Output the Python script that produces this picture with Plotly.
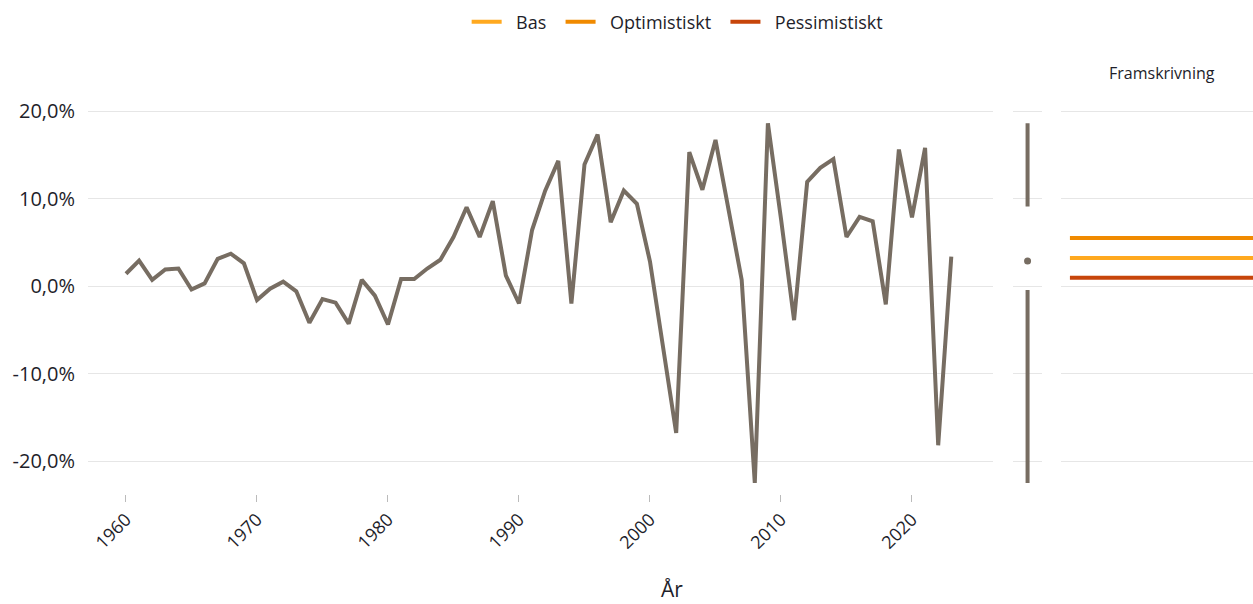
import numpy as np
import plotly.graph_objects as go

years = list(range(1960, 2024))
values = [1.4, 2.9, 0.7, 1.9, 2.0, -0.4, 0.3, 3.1, 3.7, 2.6,
          -1.6, -0.3, 0.5, -0.6, -4.2, -1.5, -1.9, -4.3, 0.7, -1.1,
          -4.4, 0.8, 0.8, 2.0, 3.0, 5.6, 9.0, 5.6, 9.7, 1.2,
          -2.0, 6.4, 10.9, 14.3, -2.0, 13.9, 17.3, 7.3, 10.9, 9.4,
          2.8, -7.2, -16.8, 15.3, 11.0, 16.7, 8.7, 0.7, -22.5, 18.6,
          7.7, -3.9, 11.9, 13.5, 14.5, 5.6, 7.9, 7.4, -2.1, 15.6,
          7.85, 15.8, -18.2, 3.35]

scenario_names = ["Bas", "Optimistiskt", "Pessimistiskt"]
scenario_values = [3.2, 5.5, 0.95]
scenario_colors = ["#FFA91F", "#F08A00", "#C7450A"]
projection_years = [2024, 2050]

ytick_vals = [-20, -10, 0, 10, 20]
ytick_text = ["-20,0%", "-10,0%", "0,0%", "10,0%", "20,0%"]
xtick_vals = [1960, 1970, 1980, 1990, 2000, 2010, 2020]

line_color = "#776D62"
grid_color = "#E6E6E6"
text_color = "#1E1E2A"
font_family = "Open Sans"

arr = np.array(values)
vmin, q1, med, q3, vmax = (np.min(arr), np.percentile(arr, 25), np.median(arr),
                           np.percentile(arr, 75), np.max(arr))

fig = go.Figure()

fig.add_trace(go.Scatter(x=years, y=values, mode="lines",
                         line=dict(color=line_color, width=4),
                         showlegend=False, xaxis="x", yaxis="y"))

fig.add_trace(go.Scatter(x=[0, 0, None, 0, 0], y=[q3, vmax, None, q1, vmin],
                         mode="lines", line=dict(color=line_color, width=4),
                         showlegend=False, xaxis="x2", yaxis="y2"))
fig.add_trace(go.Scatter(x=[0], y=[med], mode="markers",
                         marker=dict(color=line_color, size=7),
                         showlegend=False, xaxis="x2", yaxis="y2"))

pad = "\u00a0\u00a0"
for name, val, col in zip(scenario_names, scenario_values, scenario_colors):
    fig.add_trace(go.Scatter(x=projection_years, y=[val, val], mode="lines",
                             name=pad + name + pad, line=dict(color=col, width=4),
                             xaxis="x3", yaxis="y3"))

yrange = [-23.77, 21.26]
common_y = dict(range=yrange, showgrid=True, gridcolor=grid_color, gridwidth=1,
                zeroline=False, showline=False, tickvals=ytick_vals, automargin=False)

fig.update_layout(
    width=1253, height=604,
    margin=dict(l=88, r=0, t=100, b=110, autoexpand=False),
    paper_bgcolor="white", plot_bgcolor="white",
    font=dict(family=font_family, color=text_color, size=18),
    xaxis=dict(domain=[0, 0.777], range=[1957.1, 2026.2], tickvals=xtick_vals,
               tickangle=-45, ticks="outside", ticklen=7, tickcolor="#BBBBBB",
               showgrid=False, zeroline=False, showline=False, automargin=False,
               tickfont=dict(size=18)),
    yaxis=dict(**common_y, ticktext=ytick_text, tickfont=dict(size=20),
               ticklabelstandoff=12),
    xaxis2=dict(domain=[0.794, 0.819], range=[-1, 1], visible=False),
    yaxis2=dict(**common_y, anchor="x2", showticklabels=False),
    xaxis3=dict(domain=[0.835, 1.0], range=[2022.7, 2050], visible=False),
    yaxis3=dict(**common_y, anchor="x3", showticklabels=False),
    legend=dict(orientation="h", x=0.51, xanchor="center", y=1.198, yanchor="middle",
                font=dict(size=18), itemwidth=30, traceorder="normal"),
    annotations=[
        dict(text="Framskrivning", xref="paper", yref="paper", x=0.922, y=1.0685,
             showarrow=False, font=dict(size=16), xanchor="center", yanchor="middle"),
        dict(text="År", xref="paper", yref="paper", x=0.501, y=-0.241,
             showarrow=False, font=dict(size=21), xanchor="center", yanchor="middle"),
    ],
)

fig.write_html("out.html", config={"displayModeBar": False},
               post_script="document.body.style.margin='0';document.body.style.padding='0';"
                           "document.body.style.overflow='hidden';")
